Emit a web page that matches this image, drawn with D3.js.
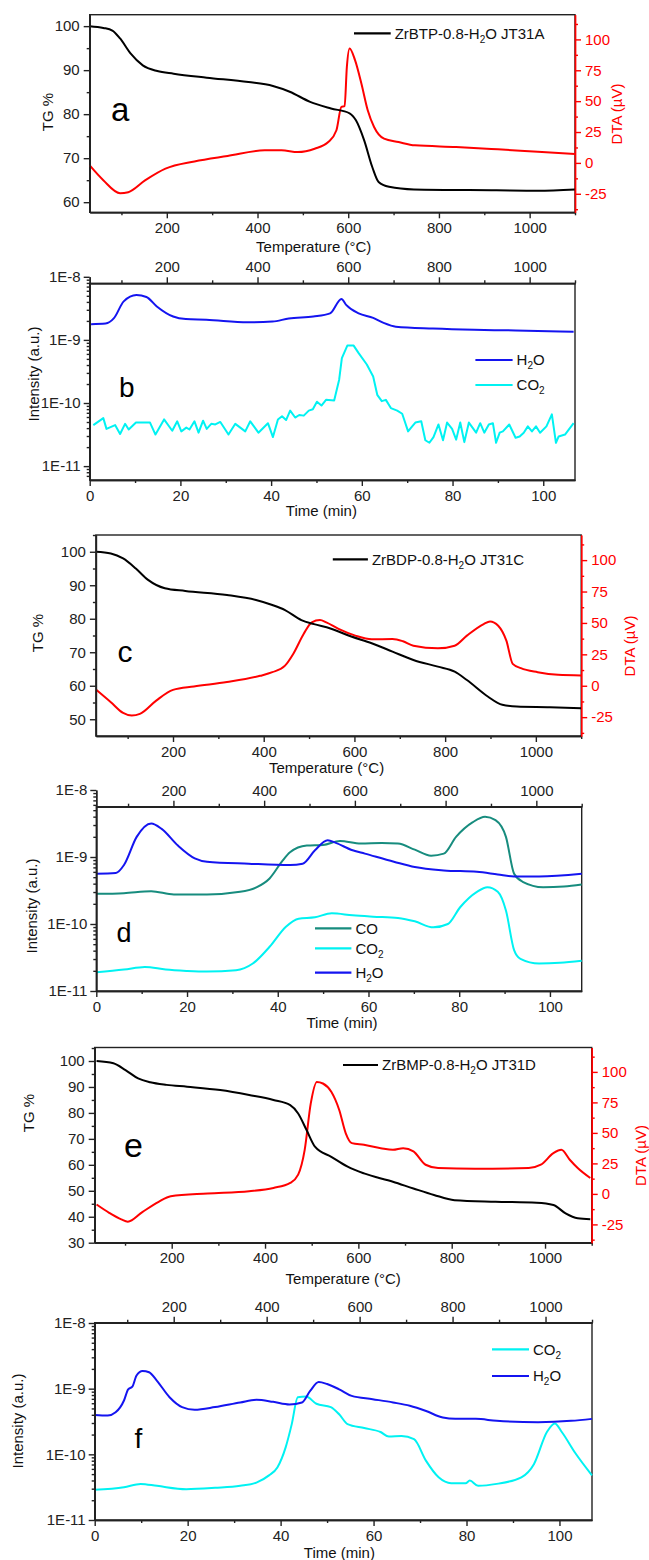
<!DOCTYPE html>
<html>
<head>
<meta charset="utf-8">
<script src="https://cdn.jsdelivr.net/npm/d3@7"></script>
<style>
body { margin: 0; background: #fff; }
svg text { font-family: "Liberation Sans", Arial, sans-serif; }
</style>
</head>
<body>
<script>
// ---------- data ----------
// panel a : ZrBTP-0.8-H2O JT31A
var tgTempA = [30, 60, 80, 97, 120, 147, 179, 215, 288, 380, 434, 471, 516, 562, 603, 617, 635, 653, 667, 690, 745, 927, 1018, 1100];
var tgA = [100, 99.6, 99.0, 97.2, 93.8, 91.1, 89.8, 89.2, 88.3, 87.3, 86.4, 85.1, 82.8, 81.3, 80.2, 78.6, 74.1, 68.0, 64.6, 63.5, 62.9, 62.7, 62.6, 62.9];
var dtaTempA = [30, 60, 97, 115, 152, 197, 261, 334, 416, 453, 489, 526, 556, 574, 585, 592, 597, 603, 615, 629, 643, 657, 679, 711, 747, 838, 930, 1018, 1100];
var dtaA = [-2, -14, -24.5, -23.7, -14.2, -4.7, 1.2, 5.6, 10.2, 10.2, 8.8, 11.5, 16.9, 26.4, 45.3, 45.9, 77.8, 92.7, 83.2, 64.3, 42.6, 29.1, 19.6, 16.9, 14.2, 12.9, 11.0, 9.0, 7.2];

// panel b : MS (log10 of intensity)
var h2oTimeB = [0.3, 3.5, 5.3, 7.5, 10.3, 12.5, 14.8, 18.4, 21.2, 25.7, 34.8, 40.3, 43.9, 49.3, 53, 55.5, 56.6, 59.3, 62.5, 64.8, 67.5, 75.7, 84.8, 93.9, 106.7];
var h2oExpB = [-8.75, -8.74, -8.66, -8.39, -8.29, -8.32, -8.47, -8.63, -8.67, -8.68, -8.72, -8.71, -8.66, -8.63, -8.58, -8.35, -8.45, -8.58, -8.65, -8.73, -8.79, -8.82, -8.84, -8.85, -8.87];
var co2TimeB = [0.8, 3.0, 3.7, 5.6, 6.7, 7.8, 8.6, 10.2, 13.3, 14.5, 16.4, 18.2, 19.3, 20.2, 21.3, 22.0, 23.1, 24.0, 25.0, 25.8, 26.8, 27.7, 28.8, 30.6, 32.1, 34.3, 35.4, 37.2, 39.3, 40.4, 41.5, 42.4, 43.3, 44.2, 45.3, 46.2, 47.2, 48.3, 49.2, 50.1, 51.1, 52.1, 53.9, 55.0, 55.6, 56.8, 58.2, 59.3, 61.1, 62.5, 63.4, 64.4, 65.3, 66.4, 67.8, 68.9, 70.2, 71.1, 71.8, 73.1, 74.0, 74.9, 75.8, 76.9, 77.9, 78.8, 79.9, 80.8, 81.7, 82.6, 83.6, 85.2, 86.1, 87.0, 88.0, 88.9, 89.6, 90.4, 91.1, 92.5, 93.9, 94.8, 95.7, 96.6, 97.5, 98.4, 99.3, 100.7, 101.9, 102.8, 103.4, 104.8, 106.7];
var co2ExpB = [-10.35, -10.24, -10.41, -10.35, -10.49, -10.33, -10.42, -10.31, -10.31, -10.50, -10.26, -10.44, -10.29, -10.45, -10.39, -10.42, -10.29, -10.47, -10.28, -10.41, -10.33, -10.34, -10.30, -10.50, -10.33, -10.45, -10.29, -10.47, -10.32, -10.54, -10.26, -10.21, -10.27, -10.12, -10.23, -10.19, -10.20, -10.12, -10.10, -9.98, -10.04, -9.95, -9.96, -9.63, -9.29, -9.09, -9.09, -9.21, -9.39, -9.58, -9.87, -9.97, -9.95, -10.08, -10.12, -10.17, -10.45, -10.37, -10.31, -10.29, -10.59, -10.63, -10.54, -10.34, -10.59, -10.31, -10.41, -10.58, -10.31, -10.62, -10.31, -10.47, -10.32, -10.47, -10.34, -10.32, -10.63, -10.47, -10.45, -10.34, -10.55, -10.53, -10.47, -10.37, -10.45, -10.37, -10.47, -10.37, -10.18, -10.63, -10.53, -10.50, -10.32];

// panel c : ZrBDP-0.8-H2O JT31C
var tgTempC = [30, 63, 90, 118, 145, 182, 227, 319, 383, 419, 447, 483, 511, 547, 593, 638, 684, 730, 784, 821, 848, 894, 926, 958, 1031, 1100];
var tgC = [100, 99.5, 98.0, 95.0, 91.6, 89.1, 88.3, 87.1, 85.6, 84.1, 82.6, 79.6, 78.4, 77.1, 74.7, 72.7, 70.2, 67.7, 65.7, 64.2, 61.7, 56.8, 54.3, 53.8, 53.6, 53.3];
var dtaTempC = [30, 63, 90, 109, 127, 163, 200, 246, 319, 392, 419, 447, 465, 488, 506, 524, 538, 565, 602, 638, 684, 707, 730, 784, 821, 848, 885, 899, 917, 935, 949, 967, 1004, 1049, 1100];
var dtaC = [-3.0, -13.1, -21.6, -23.7, -22.4, -11.8, -3.3, -0.6, 2.9, 7.9, 10.8, 16.0, 25.3, 41.2, 50.5, 52.3, 50.5, 45.2, 39.9, 37.0, 37.2, 35.4, 31.9, 29.8, 31.9, 39.9, 49.1, 51.2, 47.8, 35.9, 17.4, 14.0, 10.8, 8.7, 8.2];

// panel d : MS
var coTimeD = [0, 6.1, 12.1, 17.1, 24.4, 31.7, 35.4, 38.2, 40.9, 42.7, 46.4, 50.0, 53.7, 58.3, 62.9, 66.5, 70.2, 73.8, 76.6, 79.3, 83.0, 85.7, 88.0, 90.3, 92.1, 94.0, 98.5, 103.1, 107];
var coExpD = [-9.55, -9.54, -9.51, -9.56, -9.56, -9.52, -9.45, -9.32, -9.07, -8.93, -8.83, -8.82, -8.76, -8.80, -8.79, -8.80, -8.89, -8.98, -8.95, -8.70, -8.48, -8.40, -8.45, -8.70, -9.25, -9.37, -9.45, -9.44, -9.41];
var co2TimeD = [0, 6.1, 10.7, 15.3, 19.9, 24.4, 30.8, 34.5, 38.2, 41.8, 44.6, 48.2, 51.9, 56.5, 61.0, 66.5, 70.2, 74.3, 77.5, 80.2, 83.9, 86.2, 88.5, 90.3, 92.1, 93.5, 97.6, 102.2, 107];
var co2ExpD = [-10.72, -10.68, -10.64, -10.68, -10.70, -10.71, -10.69, -10.59, -10.34, -10.04, -9.92, -9.90, -9.84, -9.87, -9.89, -9.91, -9.96, -10.05, -10.00, -9.75, -9.52, -9.45, -9.52, -9.80, -10.39, -10.52, -10.59, -10.58, -10.55];
var h2oTimeD = [0, 4.3, 6.1, 8.9, 12.1, 14.4, 18.0, 21.7, 24.4, 33.6, 42.7, 45.5, 48.2, 51.0, 52.8, 56.5, 59.2, 65.6, 70.2, 76.6, 83.9, 88.5, 92.1, 97.6, 107];
var h2oExpD = [-9.25, -9.24, -9.12, -8.70, -8.50, -8.58, -8.83, -9.02, -9.07, -9.10, -9.12, -9.10, -8.90, -8.75, -8.79, -8.90, -8.95, -9.07, -9.15, -9.20, -9.22, -9.26, -9.29, -9.29, -9.25];

// panel e : ZrBMP-0.8-H2O JT31D
var tgTempE = [39, 75, 101, 128, 154, 189, 233, 304, 366, 418, 454, 471, 489, 507, 542, 577, 612, 674, 718, 762, 806, 894, 982, 1018, 1044, 1070, 1097];
var tgE = [100, 99.1, 96.5, 93.3, 91.8, 90.8, 90.1, 88.8, 86.9, 85.0, 83.0, 79.8, 73.4, 67.0, 63.1, 59.3, 56.7, 53.5, 50.9, 48.4, 46.4, 45.8, 45.4, 44.5, 41.3, 39.4, 39.0];
var dtaTempE = [39, 66, 92, 106, 137, 172, 198, 277, 366, 418, 454, 471, 485, 498, 511, 524, 542, 559, 573, 586, 612, 648, 674, 696, 718, 744, 771, 850, 965, 991, 1018, 1035, 1053, 1070, 1097];
var dtaE = [-8.7, -15.5, -20.9, -22.8, -14.9, -6.5, -1.9, 0.3, 2.2, 4.9, 9.0, 15.8, 36.1, 74.2, 91.8, 90.5, 83.7, 68.8, 49.7, 41.6, 40.2, 37.5, 36.1, 37.5, 34.8, 23.9, 21.2, 20.7, 21.2, 23.9, 33.4, 36.1, 28.0, 21.2, 13.0];

// panel f : MS
var co2TimeF = [0, 6.3, 9.9, 13.4, 19.7, 25.9, 31.3, 34.8, 37.5, 39.3, 41.1, 42.4, 43.7, 45.5, 47.7, 50.8, 52.6, 54.4, 58.0, 61.5, 63.3, 66.0, 68.7, 71.3, 74.0, 76.7, 79.8, 80.7, 82.5, 86.5, 91.8, 94.5, 97.3, 99.0, 100.5, 103.4, 107];
var co2ExpF = [-10.54, -10.50, -10.45, -10.48, -10.53, -10.51, -10.48, -10.43, -10.32, -10.20, -9.89, -9.54, -9.13, -9.12, -9.23, -9.28, -9.39, -9.54, -9.60, -9.66, -9.73, -9.72, -9.77, -10.10, -10.35, -10.44, -10.44, -10.40, -10.48, -10.45, -10.35, -10.15, -9.66, -9.53, -9.66, -9.98, -10.32];
var h2oTimeF = [0, 2.8, 4.5, 6.3, 7.2, 8.1, 9.0, 10.3, 11.7, 13.4, 16.1, 18.8, 21.5, 25.9, 31.3, 34.8, 38.4, 41.9, 44.6, 46.4, 48.2, 50.0, 52.6, 55.3, 59.8, 64.2, 67.8, 71.3, 74.9, 77.6, 82.0, 86.5, 95.4, 102.5, 107];
var h2oExpF = [-9.40, -9.41, -9.36, -9.18, -9.01, -8.97, -8.80, -8.73, -8.75, -8.88, -9.13, -9.28, -9.32, -9.28, -9.21, -9.17, -9.20, -9.24, -9.21, -9.03, -8.90, -8.93, -9.01, -9.11, -9.16, -9.21, -9.26, -9.34, -9.44, -9.46, -9.46, -9.49, -9.51, -9.49, -9.46];

// tick values
var tempMajor = [200, 400, 600, 800, 1000];
var tempMinor = [100, 300, 500, 700, 900, 1100];
var dtaMajor = [-25, 0, 25, 50, 75, 100];
var dtaMinor = [-37.5, -12.5, 12.5, 37.5, 62.5, 87.5, 112.5];
var timeMajor = [0, 20, 40, 60, 80, 100];
var timeMinor = [10, 30, 50, 70, 90];
var decades = [-11, -10, -9, -8];

// ---------- drawing ----------
var FONT = 15;
var RED = "#ff0000", BLUE = "#1414f0", CYAN = "#00f2f2", TEAL = "#178c7e", INK = "#222";

var svg = d3.select("body").append("svg")
  .attr("width", 649)
  .attr("height", 1560);

// text with "_x" meaning subscript x
function subText(sel, str) {
  var parts = str.split(/_(.)/);
  parts.forEach(function(p, i) {
    if (i % 2 === 1) {
      sel.append("tspan").attr("font-size", 10).attr("dy", 4).text(p);
    } else if (p !== "") {
      var t = sel.append("tspan").text(p);
      if (i > 0) t.attr("dy", -4);
    }
  });
}

function styleAxis(g, color) {
  g.selectAll("path, line").attr("stroke", color).attr("stroke-width", 1.4);
  g.selectAll("text").attr("fill", color).attr("font-size", FONT);
}

function drawAxis(axisFn, scale, transform, major, minor, color, fmt, pad) {
  var gMin = svg.append("g").attr("transform", transform)
    .call(axisFn(scale).tickValues(minor).tickSize(3).tickSizeOuter(0).tickFormat(""));
  var gMaj = svg.append("g").attr("transform", transform)
    .call(axisFn(scale).tickValues(major).tickSize(6).tickSizeOuter(0).tickPadding(pad).tickFormat(fmt));
  styleAxis(gMin, color);
  styleAxis(gMaj, color);
}

function frame(p) {
  svg.append("rect")
    .attr("x", p.left).attr("y", p.top)
    .attr("width", p.right - p.left).attr("height", p.bottom - p.top)
    .attr("fill", "none").attr("stroke", INK).attr("stroke-width", 1.4);
}

function plain(d) { return String(d); }

function vLabel(x, y, txt, color) {
  svg.append("text")
    .attr("transform", "translate(" + x + "," + y + ") rotate(-90)")
    .attr("text-anchor", "middle")
    .attr("font-size", FONT)
    .attr("fill", color)
    .text(txt);
}

function hLabel(x, y, txt) {
  svg.append("text")
    .attr("x", x).attr("y", y)
    .attr("text-anchor", "middle")
    .attr("font-size", FONT)
    .attr("fill", "#111")
    .text(txt);
}

function letter(x, y, txt, size) {
  svg.append("text").attr("x", x).attr("y", y)
    .attr("font-size", size).attr("fill", "#000").text(txt);
}

function legendRow(x1, x2, y, color, label) {
  svg.append("line").attr("x1", x1).attr("x2", x2).attr("y1", y).attr("y2", y)
    .attr("stroke", color).attr("stroke-width", 2.2);
  var t = svg.append("text").attr("x", x2 + 4).attr("y", y + 5.4)
    .attr("font-size", FONT).attr("fill", "#111");
  subText(t, label);
}

function drawLine(xs, ys, xScale, yScale, color, curve) {
  var pts = xs.map(function(v, i) { return [v, ys[i]]; });
  var line = d3.line()
    .x(function(d) { return xScale(d[0]); })
    .y(function(d) { return yScale(d[1]); })
    .curve(curve || d3.curveMonotoneX);
  svg.append("path").datum(pts)
    .attr("d", line)
    .attr("fill", "none")
    .attr("stroke", color)
    .attr("stroke-width", 2)
    .attr("stroke-linejoin", "round");
}

// TG / DTA panel
function thermalPanel(p) {
  var x = d3.scaleLinear().domain(p.tempDomain).range([p.left, p.right]);
  var yTG = d3.scaleLinear().domain(p.tgDomain).range([p.bottom, p.top]);
  var yDTA = d3.scaleLinear().domain([-40, 120]).range([p.bottom, p.top]);

  frame(p);
  drawLine(p.dtaTemp, p.dta, x, yDTA, RED);
  drawLine(p.tgTemp, p.tg, x, yTG, "#000");

  drawAxis(d3.axisBottom, x, "translate(0," + p.bottom + ")", tempMajor, tempMinor, INK, plain, 4);
  drawAxis(d3.axisLeft, yTG, "translate(" + p.left + ",0)", p.tgMajor, p.tgMinor, INK, plain, 4);
  drawAxis(d3.axisRight, yDTA, "translate(" + p.right + ",0)", dtaMajor, dtaMinor, RED, plain, 4);

  hLabel((p.left + p.right) / 2 + p.xLabelShift, p.xLabelY, "Temperature (°C)");
  vLabel(p.tgLabel[0], p.tgLabel[1], "TG %", "#111");
  vLabel(p.dtaLabel[0], p.dtaLabel[1], "DTA (µV)", RED);
  letter(p.letter[0], p.letter[1], p.letter[2], p.letter[3]);
  legendRow(p.legend[0], p.legend[1], p.legend[2], "#000", p.legend[3]);
}

// mass-spec panel
function msPanel(p) {
  var x = d3.scaleLinear().domain([0, 107]).range([p.left, p.right]);
  var xT = d3.scaleLinear().domain([30, 1100]).range([p.left, p.right]);
  var y = d3.scaleLog().domain([p.logMin, 1e-8]).range([p.bottom, p.y8]);

  frame(p);
  p.series.forEach(function(s) {
    drawLine(s.t, s.e.map(function(v) { return Math.pow(10, v); }), x, y, s.color, s.curve);
  });

  var minors = [];
  decades.forEach(function(d) {
    for (var k = 2; k <= 9; k++) {
      var v = k * Math.pow(10, d - 1);
      if (v >= p.logMin && v <= 1e-8) minors.push(v);
    }
  });
  var majors = decades.map(function(d) { return Math.pow(10, d); })
    .filter(function(v) { return v >= p.logMin * 0.999; });

  drawAxis(d3.axisBottom, x, "translate(0," + p.bottom + ")", timeMajor, timeMinor, INK, plain, 4);
  drawAxis(d3.axisTop, xT, "translate(0," + p.top + ")", tempMajor, tempMinor, INK, plain, 5);
  drawAxis(d3.axisLeft, y, "translate(" + p.left + ",0)", majors, minors, INK,
    function(d) { return "1E" + Math.round(Math.log10(d)); }, 3);

  hLabel((p.left + p.right) / 2 + p.xLabelShift, p.xLabelY, "Time (min)");
  vLabel(p.yLabel[0], p.yLabel[1], "Intensity (a.u.)", "#111");
  letter(p.letter[0], p.letter[1], p.letter[2], p.letter[3]);
  p.series.forEach(function(s) {
    legendRow(p.legendX[0], p.legendX[1], s.ly, s.color, s.name);
  });
}

thermalPanel({
  left: 89.7, right: 575, top: 14.7, bottom: 212.3,
  tempDomain: [30, 1100], tgDomain: [57.7, 102.6],
  tgMajor: [60, 70, 80, 90, 100], tgMinor: [65, 75, 85, 95],
  tgTemp: tgTempA, tg: tgA, dtaTemp: dtaTempA, dta: dtaA,
  xLabelY: 252, xLabelShift: -18.7,
  tgLabel: [53, 112], dtaLabel: [621.5, 114],
  letter: [111, 120.5, "a", 33],
  legend: [354, 390.7, 33.3, "ZrBTP-0.8-H_2O JT31A"]
});

msPanel({
  left: 89.7, right: 575, top: 283.3, bottom: 480,
  logMin: Math.pow(10, -11.22), y8: 276.8,
  xLabelY: 516, xLabelShift: -11,
  yLabel: [38.5, 374],
  letter: [119, 396.5, "b", 28],
  legendX: [475.4, 512.6],
  series: [
    { t: h2oTimeB, e: h2oExpB, color: BLUE, name: "H_2O", ly: 360 },
    { t: co2TimeB, e: co2ExpB, color: CYAN, name: "CO_2", ly: 385, curve: d3.curveLinear }
  ]
});

thermalPanel({
  left: 95.9, right: 581.2, top: 535, bottom: 736,
  tempDomain: [30, 1100], tgDomain: [45, 105],
  tgMajor: [50, 60, 70, 80, 90, 100], tgMinor: [55, 65, 75, 85, 95, 105],
  tgTemp: tgTempC, tg: tgC, dtaTemp: dtaTempC, dta: dtaC,
  xLabelY: 773, xLabelShift: -12,
  tgLabel: [42.5, 633], dtaLabel: [635, 646],
  letter: [117.5, 661.5, "c", 30],
  legend: [332.8, 367.9, 559.3, "ZrBDP-0.8-H_2O JT31C"]
});

msPanel({
  left: 96.3, right: 581.7, top: 806.7, bottom: 991,
  logMin: 1e-11, y8: 790,
  xLabelY: 1027.5, xLabelShift: 3,
  yLabel: [36.5, 906],
  letter: [116.5, 941.5, "d", 27],
  legendX: [315, 351.4],
  series: [
    { t: coTimeD, e: coExpD, color: TEAL, name: "CO", ly: 928.3 },
    { t: co2TimeD, e: co2ExpD, color: CYAN, name: "CO_2", ly: 948.3 },
    { t: h2oTimeD, e: h2oExpD, color: BLUE, name: "H_2O", ly: 972.7 }
  ]
});

thermalPanel({
  left: 94.7, right: 591.7, top: 1047.5, bottom: 1242.7,
  tempDomain: [35, 1100], tgDomain: [30, 105.2],
  tgMajor: [30, 40, 50, 60, 70, 80, 90, 100], tgMinor: [35, 45, 55, 65, 75, 85, 95, 105],
  tgTemp: tgTempE, tg: tgE, dtaTemp: dtaTempE, dta: dtaE,
  xLabelY: 1283.5, xLabelShift: 0,
  tgLabel: [33.5, 1113], dtaLabel: [645.5, 1155.5],
  letter: [124, 1156.5, "e", 34],
  legend: [343, 378, 1065, "ZrBMP-0.8-H_2O JT31D"]
});

msPanel({
  left: 94.7, right: 592, top: 1322.7, bottom: 1520,
  logMin: 1e-11, y8: 1323,
  xLabelY: 1558, xLabelShift: -4,
  yLabel: [23, 1421],
  letter: [134.5, 1448, "f", 28],
  legendX: [492, 529],
  series: [
    { t: co2TimeF, e: co2ExpF, color: CYAN, name: "CO_2", ly: 1349.3 },
    { t: h2oTimeF, e: h2oExpF, color: BLUE, name: "H_2O", ly: 1376 }
  ]
});
</script>
</body>
</html>
